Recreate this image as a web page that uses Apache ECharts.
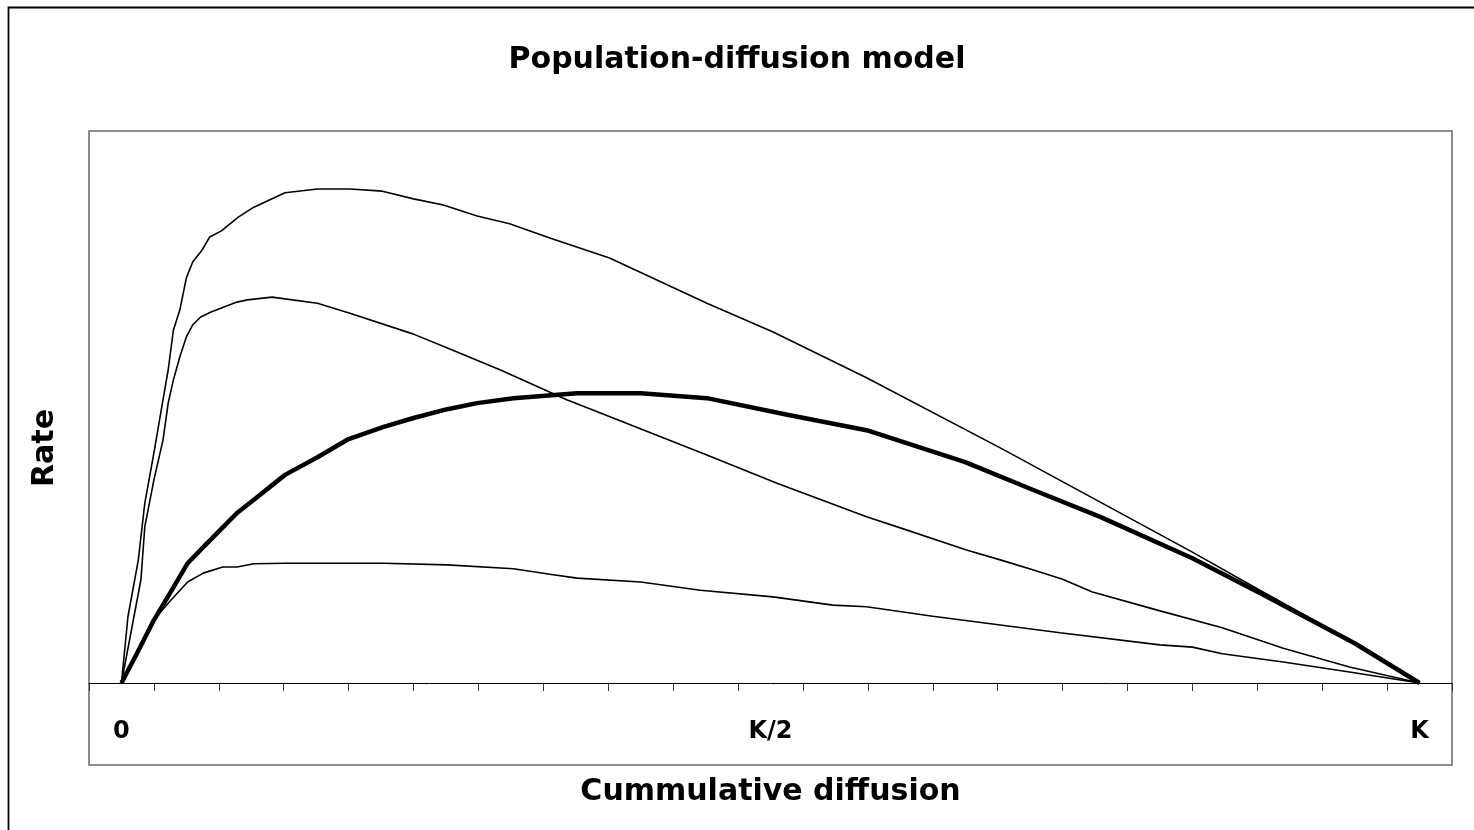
<!DOCTYPE html>
<html>
<head>
<meta charset="utf-8">
<script src="https://cdn.jsdelivr.net/npm/echarts@6/dist/echarts.min.js"></script>
<style>
html,body{margin:0;padding:0;background:#fff;}
#chart{width:1474px;height:830px;}
</style>
</head>
<body>
<div id="chart"></div>
<script>
// ---- data (x = cumulative diffusion as fraction of K, y = rate, arbitrary units) ----
const chartTitle = 'Population-diffusion model';
const xAxisTitle = 'Cummulative diffusion';
const yAxisTitle = 'Rate';
const xCategoryCount = 21;
const xTickLabelIndex = [0, 10, 20];
const xTickLabels = ['0', 'K/2', 'K'];

const seriesTopX = [0,0.005,0.013,0.018,0.025,0.032,0.036,0.040,0.045,0.050,0.055,0.062,0.068,0.077,0.090,0.102,0.126,0.151,0.176,0.201,0.225,0.248,0.274,0.299,0.330,0.376,0.451,0.502,0.574,0.677,0.825,0.877,0.946,1];
const seriesTopY = [0,12.0,22.3,32.6,41.7,51.3,56.7,63.9,67.6,73.4,76.3,78.4,80.8,81.9,84.4,86.2,88.8,89.5,89.5,89.1,87.7,86.6,84.6,83.2,80.6,77.0,68.8,63.6,55.3,42.6,23.7,16.8,7.8,0];

const seriesSecondX = [0,0.015,0.018,0.025,0.032,0.036,0.040,0.045,0.050,0.055,0.061,0.069,0.089,0.097,0.116,0.151,0.176,0.225,0.253,0.292,0.343,0.369,0.451,0.505,0.574,0.600,0.651,0.677,0.702,0.725,0.748,0.798,0.848,0.895,0.946,1];
const seriesSecondY = [0,18.7,28.3,36.8,44.0,50.7,54.9,59.1,62.7,64.9,66.3,67.2,69.0,69.4,69.9,68.8,67.0,63.2,60.5,56.7,51.3,48.9,41.3,36.2,30.1,28.1,24.1,22.3,20.5,18.8,16.5,13.2,10.0,6.3,2.9,0];

const seriesThickX = [0,0.012,0.025,0.038,0.051,0.063,0.076,0.089,0.102,0.126,0.151,0.175,0.202,0.225,0.251,0.274,0.302,0.351,0.400,0.451,0.513,0.574,0.650,0.702,0.754,0.825,0.877,0.950,1];
const seriesThickY = [0,5.4,11.4,16.5,21.7,24.6,27.7,30.8,33.2,37.7,40.9,44.2,46.4,48.0,49.6,50.7,51.6,52.5,52.5,51.6,48.6,45.8,40.0,35.0,30.1,22.6,16.3,7.2,0];

const seriesLowX = [0,0.012,0.025,0.038,0.051,0.063,0.078,0.089,0.102,0.126,0.202,0.251,0.302,0.330,0.351,0.400,0.446,0.502,0.548,0.574,0.625,0.677,0.723,0.800,0.825,0.848,0.895,0.946,1];
const seriesLowY = [0,5.4,11.4,15.0,18.3,19.9,21.0,21.0,21.6,21.7,21.7,21.4,20.7,19.7,19.0,18.3,16.8,15.6,14.1,13.8,12.1,10.5,9.1,6.9,6.5,5.3,3.8,2.0,0];

function zip(xs, ys){ return xs.map((x,i)=>[x, ys[i]]); }

const categories = Array.from({length: xCategoryCount}, (_, i) => String(i));
const FONT = 'DejaVu Sans';

const chart = echarts.init(document.getElementById('chart'), null, {renderer:'canvas'});
const thin = {color:'#000', width:1.6};
const thick = {color:'#000', width:4.5};

chart.setOption({
  animation:false,
  backgroundColor:'#fff',
  graphic:[{
    type:'rect', left:6, top:5, shape:{width:1520, height:900},
    style:{fill:'none', stroke:'#000', lineWidth:1.8}, silent:true, z:-10
  }],
  title:{
    text:chartTitle, left:'center', top:40,
    textStyle:{fontFamily:FONT, fontWeight:'bold', fontSize:30, color:'#000'}
  },
  grid:{
    left:89, right:22, top:131, bottom:65,
    show:true, borderColor:'#8c8c8c', borderWidth:2, backgroundColor:'#fff',
    containLabel:false, outerBoundsMode:'none'
  },
  xAxis:[{
    type:'category', data:categories, boundaryGap:true,
    axisLine:{onZero:true, lineStyle:{color:'#000', width:1}},
    axisTick:{show:true, inside:false, length:8, lineStyle:{color:'#333', width:1}},
    axisLabel:{
      interval:0, margin:-45, color:'#000', fontFamily:FONT, fontWeight:'bold', fontSize:24,
      formatter:(v, i) => { const k = xTickLabelIndex.indexOf(i); return k >= 0 ? xTickLabels[k] : ''; }
    },
    splitLine:{show:false},
    name:xAxisTitle, nameLocation:'middle', nameGap:12,
    nameTextStyle:{fontFamily:FONT, fontWeight:'bold', fontSize:30, color:'#000'}
  },{
    type:'value', min:-0.025, max:1.025, show:false
  }],
  yAxis:[{
    type:'value', min:-14.86, max:100,
    axisLine:{show:false}, axisTick:{show:false}, axisLabel:{show:false}, splitLine:{show:false},
    name:yAxisTitle, nameLocation:'middle', nameGap:29, nameRotate:90,
    nameTextStyle:{fontFamily:FONT, fontWeight:'bold', fontSize:30, color:'#000'}
  }],
  series:[
    {type:'line', xAxisIndex:1, yAxisIndex:0, data:zip(seriesTopX, seriesTopY), showSymbol:false, lineStyle:thin, z:3},
    {type:'line', xAxisIndex:1, yAxisIndex:0, data:zip(seriesSecondX, seriesSecondY), showSymbol:false, lineStyle:thin, z:3},
    {type:'line', xAxisIndex:1, yAxisIndex:0, data:zip(seriesLowX, seriesLowY), showSymbol:false, lineStyle:thin, z:3},
    {type:'line', xAxisIndex:1, yAxisIndex:0, data:zip(seriesThickX, seriesThickY), showSymbol:false, lineStyle:thick, z:4}
  ]
});
</script>
</body>
</html>
